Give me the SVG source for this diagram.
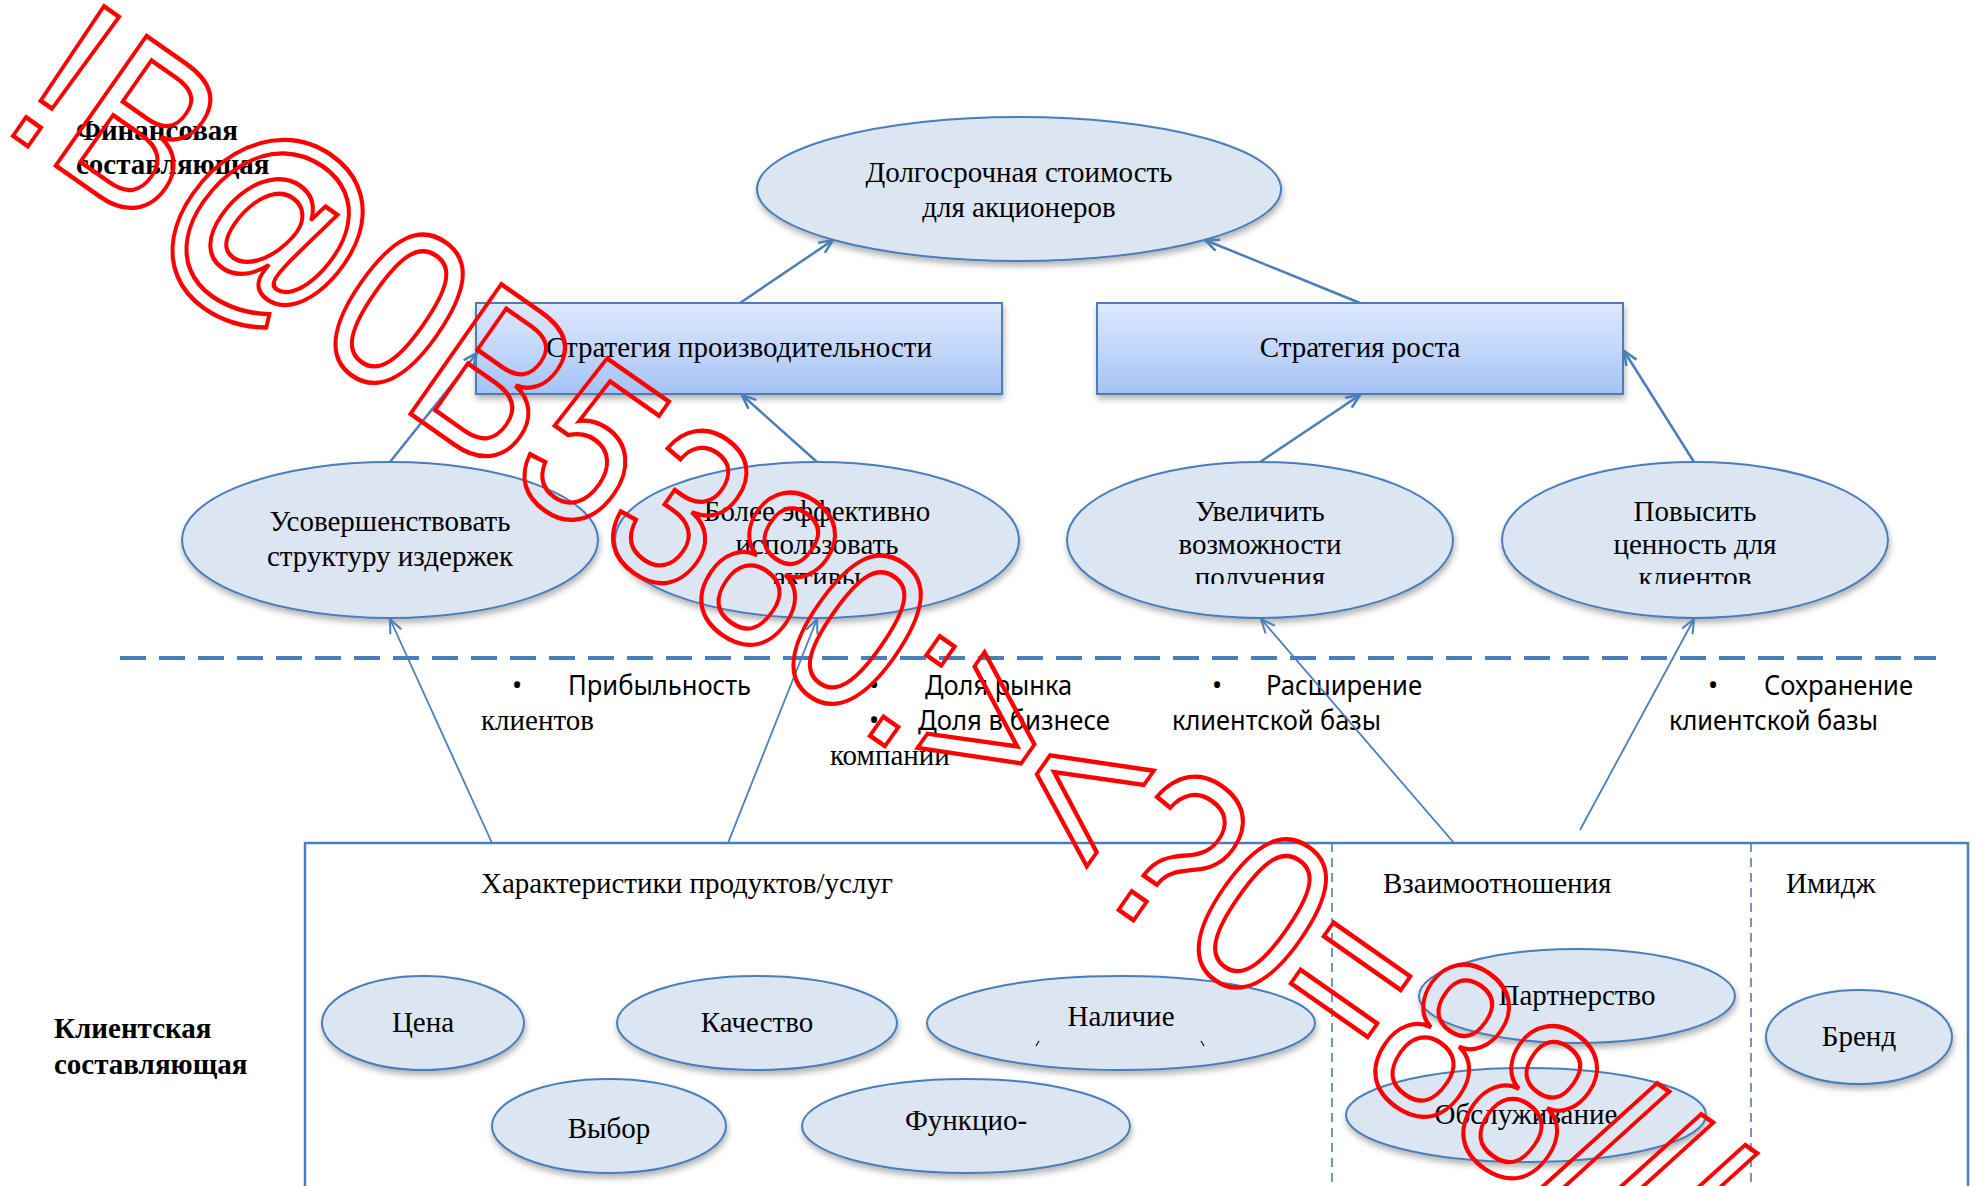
<svg xmlns="http://www.w3.org/2000/svg" width="1978" height="1186" viewBox="0 0 1978 1186">
  <defs>
    <style>
      .oval { fill: #dce6f2; stroke: #4a7ebb; stroke-width: 2; filter: url(#shadow); }
      .box { fill: url(#boxFill); stroke: #4a7ebb; stroke-width: 2; filter: url(#shadow); }
      .t { font-family: "Liberation Serif", "Times New Roman", serif; font-size: 29px; fill: #000; }
      .mid { text-anchor: middle; }
      .bold { font-weight: bold; }
      .s { font-family: "Noto Sans", "Open Sans", sans-serif; font-size: 27px; fill: #000; }
      .link { fill: none; stroke: #4a7ebb; stroke-width: 2.5; marker-end: url(#head); }
      .thin { fill: none; stroke: #4a7ebb; stroke-width: 1.8; marker-end: url(#headThin); }
      .stamp { font-family: "Liberation Sans", Arial, sans-serif; font-size: 230px; fill: none; stroke: #ff0000; stroke-width: 4.5; }
    </style>
    <linearGradient id="boxFill" x1="0" y1="0" x2="0" y2="1">
      <stop offset="0" stop-color="#dde9fd"/>
      <stop offset="0.5" stop-color="#c3d7fa"/>
      <stop offset="1" stop-color="#a3c2f4"/>
    </linearGradient>
    <filter id="shadow" x="-10%" y="-15%" width="125%" height="145%">
      <feDropShadow dx="1" dy="4" stdDeviation="3" flood-color="#000" flood-opacity="0.3"/>
    </filter>
    <marker id="head" viewBox="0 0 16 14" refX="15" refY="7" markerWidth="16" markerHeight="14" markerUnits="userSpaceOnUse" orient="auto">
      <path d="M1,1 L15,7 L1,13" fill="none" stroke="#4a7ebb" stroke-width="2.5"/>
    </marker>
    <marker id="headThin" viewBox="0 0 16 14" refX="15" refY="7" markerWidth="16" markerHeight="14" markerUnits="userSpaceOnUse" orient="auto">
      <path d="M1,1 L15,7 L1,13" fill="none" stroke="#4a7ebb" stroke-width="2"/>
    </marker>
    <clipPath id="clipLines">
      <rect x="0" y="440" width="1978" height="144"/>
    </clipPath>
  </defs>

  <rect width="1978" height="1186" fill="#ffffff"/>

  <!-- perspective labels -->
  <g id="label-financial">
    <text class="t bold" x="76" y="140">Финансовая</text>
    <text class="t bold" x="76" y="174">составляющая</text>
  </g>
  <g id="label-customer">
    <text class="t bold" x="54" y="1038">Клиентская</text>
    <text class="t bold" x="54" y="1074">составляющая</text>
  </g>

  <!-- financial goal -->
  <g id="shareholder-value">
    <ellipse class="oval" cx="1019" cy="189" rx="262" ry="72"/>
    <text class="t mid" x="1019" y="182">Долгосрочная стоимость</text>
    <text class="t mid" x="1019" y="217">для акционеров</text>
  </g>

  <!-- strategies -->
  <g id="productivity-strategy">
    <rect class="box" x="476" y="303" width="526" height="91"/>
    <text class="t mid" x="739" y="357">Стратегия производительности</text>
  </g>
  <g id="growth-strategy">
    <rect class="box" x="1097" y="303" width="526" height="91"/>
    <text class="t mid" x="1360" y="357">Стратегия роста</text>
  </g>

  <!-- strategic objectives -->
  <g id="cost-structure">
    <ellipse class="oval" cx="390" cy="540" rx="208" ry="78"/>
    <text class="t mid" x="390" y="531">Усовершенствовать</text>
    <text class="t mid" x="390" y="566">структуру издержек</text>
  </g>
  <g id="asset-use">
    <ellipse class="oval" cx="817" cy="540" rx="202" ry="78"/>
    <g clip-path="url(#clipLines)">
      <text class="t mid" x="817" y="521">Более эффективно</text>
      <text class="t mid" x="817" y="554">использовать</text>
      <text class="t mid" x="817" y="587">активы</text>
    </g>
  </g>
  <g id="revenue-opportunities">
    <ellipse class="oval" cx="1260" cy="540" rx="193" ry="78"/>
    <g clip-path="url(#clipLines)">
      <text class="t mid" x="1260" y="521">Увеличить</text>
      <text class="t mid" x="1260" y="554">возможности</text>
      <text class="t mid" x="1260" y="587">получения</text>
    </g>
  </g>
  <g id="customer-value">
    <ellipse class="oval" cx="1695" cy="540" rx="193" ry="78"/>
    <g clip-path="url(#clipLines)">
      <text class="t mid" x="1695" y="521">Повысить</text>
      <text class="t mid" x="1695" y="554">ценность для</text>
      <text class="t mid" x="1695" y="587">клиентов</text>
    </g>
  </g>

  <!-- boundary between perspectives -->
  <line x1="120" y1="658" x2="1936" y2="658" stroke="#4a7ebb" stroke-width="4" stroke-dasharray="26 13"/>

  <!-- customer outcome measures -->
  <g id="measures">
    <text class="s mid" x="517" y="695">•</text>
    <text class="s" x="568" y="695" textLength="183" lengthAdjust="spacingAndGlyphs">Прибыльность</text>
    <text class="t" x="481" y="730">клиентов</text>

    <text class="s mid" x="874" y="695">•</text>
    <text class="s" x="925" y="695" textLength="147" lengthAdjust="spacingAndGlyphs">Доля рынка</text>
    <text class="s mid" x="874" y="730">•</text>
    <text class="s" x="918" y="730" textLength="192" lengthAdjust="spacingAndGlyphs">Доля в бизнесе</text>
    <text class="t" x="830" y="765">компании</text>

    <text class="s mid" x="1217" y="695">•</text>
    <text class="s" x="1266" y="695" textLength="156" lengthAdjust="spacingAndGlyphs">Расширение</text>
    <text class="s" x="1172" y="730" textLength="209" lengthAdjust="spacingAndGlyphs">клиентской базы</text>

    <text class="s mid" x="1713" y="695">•</text>
    <text class="s" x="1764" y="695" textLength="149" lengthAdjust="spacingAndGlyphs">Сохранение</text>
    <text class="s" x="1669" y="730" textLength="209" lengthAdjust="spacingAndGlyphs">клиентской базы</text>
  </g>

  <!-- customer value proposition frame -->
  <g id="value-proposition">
    <rect x="305" y="843" width="1663" height="420" fill="none" stroke="#4a7ebb" stroke-width="2.5"/>
    <line x1="1332" y1="843" x2="1332" y2="1186" stroke="#4a7ebb" stroke-width="1.6" stroke-dasharray="9 6"/>
    <line x1="1751" y1="843" x2="1751" y2="1186" stroke="#4a7ebb" stroke-width="1.6" stroke-dasharray="9 6"/>
    <text class="t" x="481" y="893">Характеристики продуктов/услуг</text>
    <text class="t" x="1383" y="893">Взаимоотношения</text>
    <text class="t" x="1786" y="893">Имидж</text>
  </g>

  <g id="price">
    <ellipse class="oval" cx="423" cy="1023" rx="101" ry="47"/>
    <text class="t mid" x="423" y="1032">Цена</text>
  </g>
  <g id="quality">
    <ellipse class="oval" cx="757" cy="1023" rx="140" ry="47"/>
    <text class="t mid" x="757" y="1032">Качество</text>
  </g>
  <g id="availability">
    <ellipse class="oval" cx="1121" cy="1023" rx="194" ry="47"/>
    <text class="t mid" x="1121" y="1026">Наличие</text>
    <path d="M1036,1046 L1039,1041 M1201,1041 L1204,1046" stroke="#000" stroke-width="1.2" fill="none"/>
  </g>
  <g id="selection">
    <ellipse class="oval" cx="609" cy="1126" rx="117" ry="47"/>
    <text class="t mid" x="609" y="1138">Выбор</text>
  </g>
  <g id="functionality">
    <ellipse class="oval" cx="966" cy="1126" rx="164" ry="47"/>
    <text class="t mid" x="966" y="1130">Функцио-</text>
  </g>
  <g id="partnership">
    <ellipse class="oval" cx="1577" cy="996" rx="158" ry="47"/>
    <text class="t mid" x="1577" y="1005">Партнерство</text>
  </g>
  <g id="service">
    <ellipse class="oval" cx="1526" cy="1115" rx="180" ry="47"/>
    <text class="t mid" x="1526" y="1124">Обслуживание</text>
  </g>
  <g id="brand">
    <ellipse class="oval" cx="1859" cy="1037" rx="93" ry="47"/>
    <text class="t mid" x="1859" y="1046">Бренд</text>
  </g>

  <!-- cause-and-effect links -->
  <g id="connectors">
    <line class="link" x1="740" y1="303" x2="833" y2="240"/>
    <line class="link" x1="1360" y1="303" x2="1205" y2="240"/>
    <line class="link" x1="390" y1="462" x2="477" y2="353"/>
    <line class="link" x1="817" y1="462" x2="742" y2="395"/>
    <line class="link" x1="1260" y1="462" x2="1360" y2="395"/>
    <line class="link" x1="1694" y1="462" x2="1624" y2="351"/>
    <line class="thin" x1="492" y1="843" x2="390" y2="619"/>
    <line class="thin" x1="728" y1="843" x2="817" y2="619"/>
    <line class="thin" x1="1454" y1="843" x2="1261" y2="619"/>
    <line class="thin" x1="1580" y1="830" x2="1694" y2="619"/>
  </g>

  <!-- diagonal stamp -->
  <g id="stamp" transform="translate(68,74) rotate(35)">
    <text class="stamp" x="-27" y="82" textLength="2030" lengthAdjust="spacingAndGlyphs">!B@0B5380:&gt;&lt;?0=88///</text>
  </g>
</svg>
